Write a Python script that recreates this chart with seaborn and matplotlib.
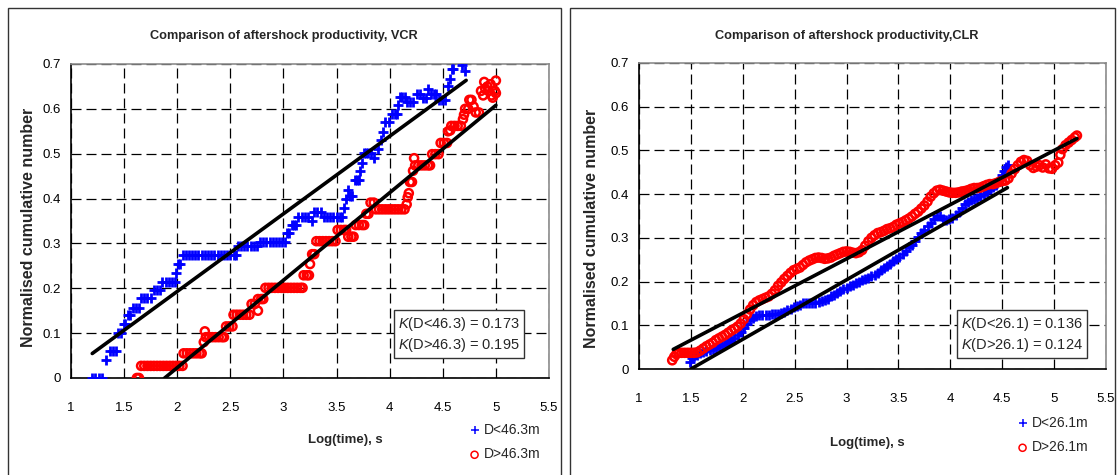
import matplotlib
matplotlib.use('Agg')
import matplotlib.pyplot as plt
from matplotlib import font_manager
from matplotlib.patches import Rectangle
from matplotlib.ticker import FuncFormatter, MultipleLocator
import seaborn as sns

# ---------------- data ----------------
# VCR, D<46.3m (blue +)
vcr_small_x = [
    1.20, 1.23, 1.26, 1.29,
    1.33,
    1.37, 1.40, 1.42,
    1.44, 1.47,
    1.50, 1.51,
    1.54, 1.56,
    1.58, 1.61, 1.64,
    1.66, 1.69, 1.72, 1.75,
    1.78, 1.81, 1.84,
    1.86, 1.89, 1.92, 1.95, 1.98,
    1.99,
    2.01, 2.03,
    2.05, 2.08, 2.11, 2.14, 2.17, 2.20, 2.23, 2.26, 2.29, 2.32, 2.35, 2.38, 2.41, 2.44, 2.47, 2.50, 2.53, 2.55,
    2.57, 2.60, 2.63, 2.66, 2.69, 2.72, 2.75,
    2.78, 2.81, 2.84, 2.87, 2.90, 2.93, 2.96, 2.99, 3.01,
    3.03, 3.05,
    3.08, 3.10, 3.12,
    3.14, 3.17, 3.20, 3.23,
    3.27,
    3.29, 3.32, 3.35,
    3.38, 3.41, 3.44, 3.47, 3.50, 3.53, 3.55,
    3.57, 3.59, 3.61,
    3.63, 3.65,
    3.67, 3.69, 3.71,
    3.72, 3.74,
    3.76, 3.78, 3.80, 3.82,
    3.85, 3.89, 3.92, 3.94,
    3.96, 3.99,
    4.02, 4.05, 4.07,
    4.08,
    4.10, 4.12, 4.14,
    4.16, 4.19, 4.22,
    4.26, 4.29,
    4.31, 4.34,
    4.36,
    4.39, 4.42, 4.44,
    4.46, 4.49, 4.52,
    4.55, 4.57, 4.59, 4.60, 4.68, 4.71,
]
vcr_small_y = [
    0.000, 0.000, 0.000, 0.000,
    0.040,
    0.060, 0.060, 0.060,
    0.100, 0.100,
    0.120, 0.120,
    0.140, 0.140,
    0.157, 0.157, 0.157,
    0.178, 0.178, 0.178, 0.178,
    0.196, 0.196, 0.196,
    0.215, 0.215, 0.215, 0.215, 0.215,
    0.235,
    0.255, 0.255,
    0.275, 0.275, 0.275, 0.275, 0.275, 0.275, 0.275, 0.275, 0.275, 0.275, 0.275, 0.275, 0.275, 0.275, 0.275, 0.275, 0.275, 0.275,
    0.295, 0.295, 0.295, 0.295, 0.295, 0.295, 0.295,
    0.304, 0.304, 0.304, 0.304, 0.304, 0.304, 0.304, 0.304, 0.304,
    0.323, 0.323,
    0.340, 0.340, 0.340,
    0.360, 0.360, 0.360, 0.360,
    0.350,
    0.370, 0.370, 0.370,
    0.358, 0.358, 0.358, 0.358, 0.358, 0.358, 0.358,
    0.378, 0.398, 0.418,
    0.405, 0.405,
    0.442, 0.442, 0.442,
    0.462, 0.480,
    0.502, 0.502, 0.502, 0.502,
    0.490, 0.510, 0.530, 0.548,
    0.570, 0.570,
    0.588, 0.588, 0.588,
    0.608,
    0.626, 0.626, 0.626,
    0.616, 0.616, 0.616,
    0.634, 0.634,
    0.624, 0.624,
    0.644,
    0.634, 0.634, 0.634,
    0.620, 0.620, 0.620,
    0.650, 0.667, 0.689, 0.689, 0.698, 0.684,
]

# VCR, D>46.3m (red o)
vcr_large_x = [
    1.62, 1.64,
    1.66, 1.69, 1.72, 1.75, 1.78, 1.81, 1.84, 1.87, 1.90, 1.93, 1.96, 1.99, 2.02, 2.05,
    2.06, 2.09, 2.12, 2.15, 2.18, 2.21, 2.23,
    2.25, 2.26,
    2.27, 2.30, 2.33, 2.36, 2.39, 2.42, 2.44,
    2.46, 2.49, 2.52,
    2.53, 2.56, 2.59, 2.62, 2.65, 2.68,
    2.70, 2.73,
    2.76, 2.76, 2.79, 2.81,
    2.83, 2.86, 2.89, 2.92, 2.95, 2.98, 3.01, 3.04, 3.07, 3.10, 3.13, 3.16, 3.18,
    3.19, 3.22, 3.24,
    3.25, 3.27, 3.29,
    3.31, 3.34, 3.37, 3.40, 3.43, 3.46, 3.49,
    3.51, 3.54, 3.57, 3.59,
    3.61, 3.64, 3.66,
    3.68, 3.71, 3.74, 3.76,
    3.78, 3.80, 3.82, 3.85,
    3.87, 3.90, 3.93, 3.96, 3.99, 4.02, 4.05, 4.08, 4.11, 4.14,
    4.16, 4.17, 4.18,
    4.19, 4.21, 4.22, 4.23,
    4.24, 4.27, 4.30, 4.33, 4.36, 4.38,
    4.40, 4.43, 4.46,
    4.48, 4.51, 4.54,
    4.55, 4.57, 4.58, 4.61, 4.64, 4.67,
    4.69, 4.70, 4.71, 4.74,
    4.75, 4.77, 4.79, 4.81, 4.84,
    4.86, 4.88, 4.89, 4.90, 4.92, 4.93, 4.95, 4.96, 4.97, 4.99, 5.00, 5.00,
]
vcr_large_y = [
    0.000, 0.000,
    0.027, 0.027, 0.027, 0.027, 0.027, 0.027, 0.027, 0.027, 0.027, 0.027, 0.027, 0.027, 0.027, 0.027,
    0.055, 0.055, 0.055, 0.055, 0.055, 0.055, 0.055,
    0.080, 0.104,
    0.091, 0.091, 0.091, 0.091, 0.091, 0.091, 0.091,
    0.115, 0.115, 0.115,
    0.141, 0.141, 0.141, 0.141, 0.141, 0.141,
    0.165, 0.165,
    0.150, 0.176, 0.176, 0.176,
    0.201, 0.201, 0.201, 0.201, 0.201, 0.201, 0.201, 0.201, 0.201, 0.201, 0.201, 0.201, 0.201,
    0.229, 0.229, 0.229,
    0.254, 0.276, 0.276,
    0.305, 0.305, 0.305, 0.305, 0.305, 0.305, 0.305,
    0.330, 0.330, 0.330, 0.330,
    0.315, 0.315, 0.315,
    0.341, 0.341, 0.341, 0.341,
    0.366, 0.366, 0.391, 0.391,
    0.376, 0.376, 0.376, 0.376, 0.376, 0.376, 0.376, 0.376, 0.376, 0.376,
    0.387, 0.403, 0.412,
    0.437, 0.437, 0.462, 0.490,
    0.474, 0.474, 0.474, 0.474, 0.474, 0.474,
    0.499, 0.499, 0.499,
    0.524, 0.524, 0.524,
    0.550, 0.552, 0.562, 0.562, 0.562, 0.562,
    0.577, 0.587, 0.600, 0.600,
    0.620, 0.620, 0.605, 0.592, 0.592,
    0.640, 0.630, 0.660, 0.645, 0.650, 0.640, 0.655, 0.630, 0.625, 0.640, 0.663, 0.635,
]

# CLR, D<26.1m (blue +)
clr_small_x = [
    1.49, 1.51, 1.53, 1.56, 1.59, 1.62, 1.65, 1.68, 1.71, 1.74,
    1.77, 1.80, 1.83, 1.86, 1.89, 1.92, 1.95, 1.98, 2.01, 2.04,
    2.07, 2.10, 2.13, 2.16, 2.19, 2.22, 2.25, 2.28, 2.31, 2.34,
    2.37, 2.40, 2.43, 2.46, 2.49, 2.52, 2.55, 2.58, 2.61, 2.64,
    2.67, 2.70, 2.73, 2.76, 2.79, 2.82, 2.85, 2.88, 2.91, 2.94,
    2.97, 3.00, 3.03, 3.06, 3.09, 3.12, 3.15, 3.18, 3.21, 3.24,
    3.27, 3.30, 3.33, 3.36, 3.39, 3.42, 3.45, 3.48, 3.51, 3.54,
    3.57, 3.60, 3.63, 3.66, 3.69, 3.72, 3.75, 3.78, 3.81, 3.84,
    3.87, 3.90, 3.93, 3.96, 3.99, 4.02, 4.05, 4.08, 4.11, 4.14,
    4.17, 4.20, 4.23, 4.26, 4.29, 4.32, 4.35, 4.38, 4.41, 4.44,
    4.47, 4.50, 4.52, 4.54, 4.56,
]
clr_small_y = [
    0.017, 0.025, 0.030, 0.033, 0.036, 0.039, 0.042, 0.044, 0.046, 0.049,
    0.052, 0.055, 0.058, 0.062, 0.066, 0.071, 0.077, 0.085, 0.093, 0.102,
    0.111, 0.117, 0.121, 0.123, 0.124, 0.124, 0.124, 0.125, 0.125, 0.126,
    0.128, 0.131, 0.134, 0.137, 0.141, 0.144, 0.147, 0.150, 0.152, 0.152,
    0.152, 0.152, 0.154, 0.156, 0.158, 0.161, 0.166, 0.170, 0.174, 0.178,
    0.182, 0.186, 0.190, 0.193, 0.196, 0.200, 0.204, 0.207, 0.209, 0.212,
    0.215, 0.220, 0.226, 0.230, 0.235, 0.241, 0.248, 0.252, 0.256, 0.263,
    0.271, 0.278, 0.283, 0.293, 0.303, 0.310, 0.318, 0.326, 0.334, 0.342,
    0.350, 0.350, 0.344, 0.341, 0.342, 0.346, 0.352, 0.360, 0.368, 0.377,
    0.383, 0.387, 0.390, 0.392, 0.395, 0.400, 0.405, 0.411, 0.416, 0.421,
    0.432, 0.443, 0.453, 0.462, 0.467,
]

# CLR, D>26.1m (red o)
clr_large_x = [
    1.32, 1.34, 1.36, 1.38, 1.41, 1.44, 1.47, 1.50, 1.53, 1.56,
    1.59, 1.62, 1.65, 1.68, 1.71, 1.74, 1.77, 1.80, 1.83, 1.86,
    1.89, 1.92, 1.95, 1.98, 2.01, 2.04, 2.07, 2.10, 2.13, 2.16,
    2.19, 2.22, 2.25, 2.28, 2.31, 2.34, 2.37, 2.40, 2.43, 2.46,
    2.49, 2.52, 2.55, 2.58, 2.61, 2.64, 2.67, 2.70, 2.73, 2.76,
    2.79, 2.82, 2.85, 2.88, 2.91, 2.94, 2.97, 3.00, 3.03, 3.06,
    3.09, 3.12, 3.15, 3.18, 3.21, 3.24, 3.27, 3.30, 3.33, 3.36,
    3.39, 3.42, 3.45, 3.48, 3.51, 3.54, 3.57, 3.60, 3.63, 3.66,
    3.69, 3.72, 3.75, 3.78, 3.81, 3.84, 3.87, 3.90, 3.93, 3.96,
    3.99, 4.02, 4.05, 4.08, 4.11, 4.14, 4.17, 4.20, 4.23, 4.26,
    4.29, 4.32, 4.35, 4.38, 4.41, 4.44, 4.47, 4.50, 4.53, 4.56,
    4.59, 4.62, 4.65, 4.68, 4.71, 4.74, 4.77, 4.80, 4.83, 4.86,
    4.89, 4.92, 4.95, 4.98, 5.01, 5.04, 5.06, 5.08, 5.11, 5.14,
    5.17, 5.20, 5.22,
]
clr_large_y = [
    0.020, 0.028, 0.034, 0.037, 0.037, 0.037, 0.037, 0.037, 0.037, 0.038,
    0.042, 0.047, 0.052, 0.056, 0.060, 0.066, 0.070, 0.074, 0.078, 0.083,
    0.088, 0.092, 0.097, 0.104, 0.114, 0.125, 0.136, 0.146, 0.153, 0.157,
    0.160, 0.163, 0.166, 0.172, 0.180, 0.190, 0.198, 0.206, 0.213, 0.220,
    0.226, 0.229, 0.232, 0.238, 0.244, 0.248, 0.251, 0.254, 0.255, 0.254,
    0.252, 0.253, 0.255, 0.259, 0.262, 0.265, 0.268, 0.269, 0.268, 0.266,
    0.265, 0.267, 0.272, 0.282, 0.292, 0.300, 0.306, 0.311, 0.313, 0.316,
    0.320, 0.322, 0.325, 0.330, 0.333, 0.336, 0.340, 0.344, 0.349, 0.355,
    0.360, 0.367, 0.374, 0.383, 0.394, 0.402, 0.408, 0.410, 0.408, 0.406,
    0.404, 0.403, 0.403, 0.404, 0.406, 0.407, 0.409, 0.412, 0.414, 0.414,
    0.415, 0.418, 0.421, 0.423, 0.423, 0.425, 0.428, 0.430, 0.431, 0.436,
    0.447, 0.457, 0.466, 0.474, 0.478, 0.476, 0.466, 0.460, 0.463, 0.466,
    0.461, 0.468, 0.459, 0.458, 0.466, 0.472, 0.490, 0.503, 0.512, 0.518,
    0.524, 0.530, 0.534,
]

# fitted lines: y = K * x + b over [x_start, x_end]
vcr_K = [0.173, 0.195]
vcr_b = [-0.153, -0.367]
vcr_fit_x = [[1.20, 4.72], [1.88, 5.00]]
clr_K = [0.136, 0.124]
clr_b = [-0.204, -0.120]
clr_fit_x = [[1.50, 4.55], [1.33, 5.22]]

titles = ['Comparison of aftershock productivity, VCR',
          'Comparison of aftershock productivity,CLR']
vcr_labels = ['D<46.3m', 'D>46.3m']
clr_labels = ['D<26.1m', 'D>26.1m']
vcr_ktext = '$K$(D<46.3) = 0.173\n$K$(D>46.3) = 0.195'
clr_ktext = '$K$(D<26.1) = 0.136\n$K$(D>26.1) = 0.124'

# ---------------- style ----------------
sns.set_theme(style='white')
names = {f.name for f in font_manager.fontManager.ttflist}
FAM = 'Liberation Sans Narrow' if 'Liberation Sans Narrow' in names else 'Liberation Sans'
plt.rcParams['font.family'] = [FAM, 'Liberation Sans', 'DejaVu Sans']
plt.rcParams['mathtext.fontset'] = 'custom'
plt.rcParams['mathtext.rm'] = FAM
plt.rcParams['mathtext.it'] = FAM + ':italic'

W, H = 1118, 475
fig = plt.figure(figsize=(W / 100, H / 100), dpi=100)
fig.patch.set_facecolor('white')


def px_box(x0, y0, x1, y1):
    # pixel rect (top-left origin) -> figure fraction [l, b, w, h]
    return [x0 / W, 1 - y1 / H, (x1 - x0) / W, (y1 - y0) / H]


# panel frames
for fx0, fx1 in [(8, 561), (570, 1115)]:
    l, b, w, h = px_box(fx0, 8, fx1, 480)
    fig.patches.append(Rectangle((l, b), w, h, transform=fig.transFigure,
                                 fill=False, ec='#333333', lw=1.0))

ax1 = fig.add_axes(px_box(71, 64, 549, 378))
ax2 = fig.add_axes(px_box(639, 63, 1106, 369))


def style_axes(ax):
    ax.set_xlim(1, 5.5)
    ax.set_ylim(0, 0.7)
    ax.xaxis.set_major_locator(MultipleLocator(0.5))
    ax.yaxis.set_major_locator(MultipleLocator(0.1))
    fmt = FuncFormatter(lambda v, p: f'{v:g}')
    ax.xaxis.set_major_formatter(fmt)
    ax.yaxis.set_major_formatter(fmt)
    ax.set_axisbelow(True)
    ax.grid(True, color='black', lw=0.9, ls=(0, (8, 4)))
    for s in ['left', 'bottom']:
        ax.spines[s].set_color('black')
        ax.spines[s].set_linewidth(1.2)
    for s in ['top', 'right']:
        ax.spines[s].set_color('#8c8c8c')
        ax.spines[s].set_linewidth(1.2)
    ax.tick_params(axis='both', direction='out', length=4, width=1,
                   colors='black', labelsize=9.5)
    ax.tick_params(axis='x', pad=13)
    ax.tick_params(axis='y', pad=3.5)
    ax.set_xlabel('')
    ax.set_ylabel('')


def draw_panel(ax, sx, sy, lx, ly, K, b, fit_x, labels):
    sns.scatterplot(x=sx, y=sy, ax=ax, marker='+', color='#0000ff', s=46,
                    linewidth=2.0, label=labels[0], zorder=3)
    sns.scatterplot(x=lx, y=ly, ax=ax, marker='o', fc='none', ec='#ff0000',
                    s=34, linewidth=1.8, label=labels[1], zorder=3)
    for k, c, xr in zip(K, b, fit_x):
        sns.lineplot(x=xr, y=[k * xr[0] + c, k * xr[1] + c], ax=ax,
                     color='black', lw=2.6, zorder=4)


draw_panel(ax1, vcr_small_x, vcr_small_y, vcr_large_x, vcr_large_y,
           vcr_K, vcr_b, vcr_fit_x, vcr_labels)
draw_panel(ax2, clr_small_x, clr_small_y, clr_large_x, clr_large_y,
           clr_K, clr_b, clr_fit_x, clr_labels)

for ax in (ax1, ax2):
    style_axes(ax)

# K boxes
box = dict(boxstyle='square,pad=0.3', fc='white', ec='#333333', lw=1.0)
ax1.text(4.65, 0.097, vcr_ktext, ha='center', va='center', fontsize=10.5,
         linespacing=1.25, bbox=box, zorder=6)
ax2.text(4.69, 0.079, clr_ktext, ha='center', va='center', fontsize=10.5,
         linespacing=1.25, bbox=box, zorder=6)

# titles and axis labels
fig.text(284 / W, 1 - 36 / H, titles[0], ha='center', va='center',
         fontsize=9.2, fontweight='bold')
fig.text(847 / W, 1 - 36 / H, titles[1], ha='center', va='center',
         fontsize=9.2, fontweight='bold')
for xp, yp in [(29, 227), (592, 228)]:
    fig.text(xp / W, 1 - yp / H, 'Normalised cumulative number', rotation=90,
             ha='center', va='center', fontsize=11.5, fontweight='bold',
             family=['Liberation Sans', 'DejaVu Sans'])
fig.text(345 / W, 1 - 440 / H, 'Log(time), s', ha='center', va='center',
         fontsize=9.5, fontweight='bold')
fig.text(867 / W, 1 - 443 / H, 'Log(time), s', ha='center', va='center',
         fontsize=9.5, fontweight='bold')

# legends below the right of each plot
for ax, (lx, ly) in [(ax1, (469, 423)), (ax2, (1017, 416))]:
    h, l = ax.get_legend_handles_labels()
    leg = ax.legend(h[:2], l[:2], loc='upper left',
                    bbox_to_anchor=(lx / W, 1 - ly / H), bbox_transform=fig.transFigure,
                    frameon=False, fontsize=10, handlelength=0.8, handletextpad=0.3,
                    labelspacing=0.75, borderpad=0, borderaxespad=0)
    for hd in leg.legend_handles:
        hd.set_linewidth(1.1)
        hd.set_sizes([26])

fig.savefig('out.png', dpi=100, facecolor='white')
